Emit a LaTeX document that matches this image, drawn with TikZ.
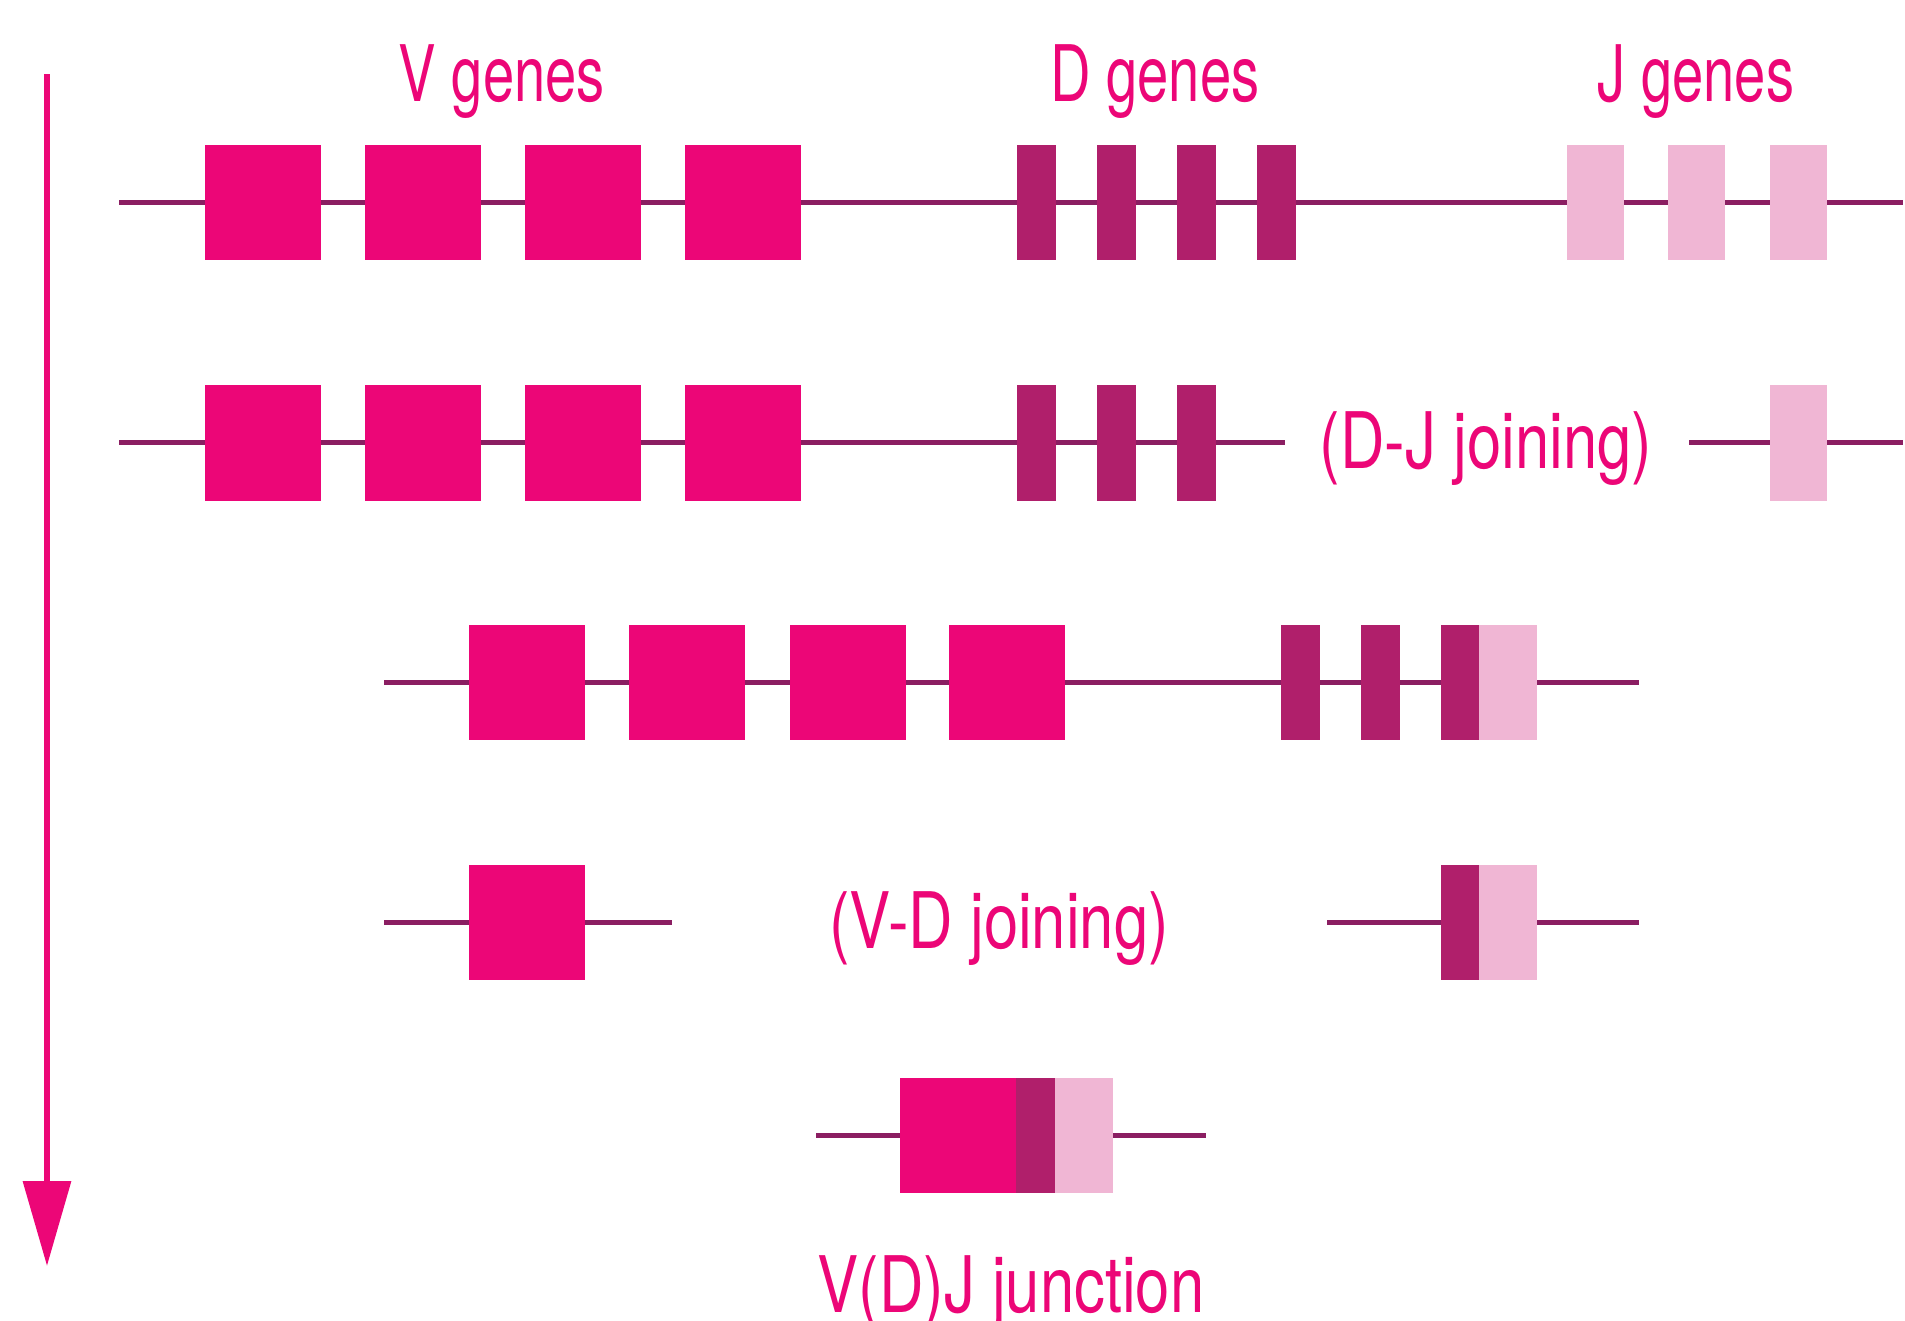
\documentclass[tikz,border=0pt]{standalone}
\usepackage{fontspec}
\setmainfont{TeX Gyre Heros}[FakeStretch=0.72]
\newfontfamily\widerfont{TeX Gyre Heros}[FakeStretch=0.79]
\usetikzlibrary{arrows.meta}
\definecolor{vcol}{HTML}{EC0677}
\definecolor{dcol}{HTML}{B01F6B}
\definecolor{jcol}{HTML}{F0B6D4}
\definecolor{lcol}{HTML}{8B1E62}
\tikzset{
  gbox/.style={rectangle, inner sep=0pt, minimum height=115.5pt, draw=none},
  vbox/.style={gbox, fill=vcol, minimum width=116pt},
  dbox/.style={gbox, fill=dcol, minimum width=39pt},
  jbox/.style={gbox, fill=jcol, minimum width=57pt},
  strand/.style={draw=lcol, line width=5pt},
  lbl/.style={text=vcol, font=\fontsize{78}{80}\selectfont, inner sep=0pt},
  wlbl/.style={text=vcol, font=\widerfont\fontsize{78}{80}\selectfont, inner sep=0pt},
}
\begin{document}
\begin{tikzpicture}[x=1pt,y=-1pt]
\useasboundingbox (0,0) rectangle (1905,1320);
% time arrow
\coordinate (atop) at (47,74);
\coordinate (abot) at (47,1266);
\draw[vcol, line width=6.5pt, -{Triangle[width=47pt,length=85pt]}] (atop) -- (abot);

% labels
\node[lbl, anchor=base] (tv) at (502,101) {V genes};
\node[lbl, anchor=base] (td) at (1155,101) {D genes};
\node[lbl, anchor=base] (tj) at (1696,101) {J genes};

% ---- row 1
\coordinate (r1s) at (119,202.5);
\coordinate (r1e) at (1903,202.5);
\draw[strand] (r1s) -- (r1e);
\node[vbox] (r1v1) at (263,202.5) {};
\node[vbox] (r1v2) at (423,202.5) {};
\node[vbox] (r1v3) at (583,202.5) {};
\node[vbox] (r1v4) at (743,202.5) {};
\node[dbox] (r1d1) at (1036.5,202.5) {};
\node[dbox] (r1d2) at (1116.5,202.5) {};
\node[dbox] (r1d3) at (1196.5,202.5) {};
\node[dbox] (r1d4) at (1276.5,202.5) {};
\node[jbox] (r1j1) at (1595.5,202.5) {};
\node[jbox] (r1j2) at (1696.5,202.5) {};
\node[jbox] (r1j3) at (1798.5,202.5) {};

% ---- row 2
\coordinate (r2s) at (119,442.75);
\coordinate (r2m) at (1285,442.75);
\coordinate (r2n) at (1689,442.75);
\coordinate (r2e) at (1903,442.75);
\draw[strand] (r2s) -- (r2m);
\draw[strand] (r2n) -- (r2e);
\node[vbox] (r2v1) at (263,442.75) {};
\node[vbox] (r2v2) at (423,442.75) {};
\node[vbox] (r2v3) at (583,442.75) {};
\node[vbox] (r2v4) at (743,442.75) {};
\node[dbox] (r2d1) at (1036.5,442.75) {};
\node[dbox] (r2d2) at (1116.5,442.75) {};
\node[dbox] (r2d3) at (1196.5,442.75) {};
\node[jbox] (r2j3) at (1798.5,442.75) {};
\node[wlbl, anchor=base] (tdj) at (1486,468) {(D-J joining)};

% ---- row 3
\coordinate (r3s) at (384,682.5);
\coordinate (r3e) at (1639,682.5);
\draw[strand] (r3s) -- (r3e);
\node[vbox] (r3v1) at (526.5,682.5) {};
\node[vbox] (r3v2) at (687,682.5) {};
\node[vbox] (r3v3) at (847.5,682.5) {};
\node[vbox] (r3v4) at (1006.5,682.5) {};
\node[dbox] (r3d1) at (1300.5,682.5) {};
\node[dbox] (r3d2) at (1380.5,682.5) {};
\node[dbox, minimum width=38pt] (r3d3) at (1460,682.5) {};
\node[jbox, minimum width=58pt] (r3j) at (1508,682.5) {};

% ---- row 4
\coordinate (r4s) at (384,922.5);
\coordinate (r4m) at (672,922.5);
\coordinate (r4n) at (1327,922.5);
\coordinate (r4e) at (1639,922.5);
\draw[strand] (r4s) -- (r4m);
\draw[strand] (r4n) -- (r4e);
\node[vbox] (r4v) at (526.5,922.5) {};
\node[dbox, minimum width=38pt] (r4d) at (1460,922.5) {};
\node[jbox, minimum width=58pt] (r4j) at (1508,922.5) {};
\node[wlbl, anchor=base] (tvd) at (999,948) {(V-D joining)};

% ---- row 5
\coordinate (r5s) at (816,1135.5);
\coordinate (r5e) at (1206,1135.5);
\draw[strand] (r5s) -- (r5e);
\node[vbox] (r5v) at (958,1135.5) {};
\node[dbox] (r5d) at (1035.5,1135.5) {};
\node[jbox, minimum width=58pt] (r5j) at (1084,1135.5) {};
\node[wlbl, anchor=base] (tjn) at (1011,1312) {V(D)J junction};
\end{tikzpicture}
\end{document}
